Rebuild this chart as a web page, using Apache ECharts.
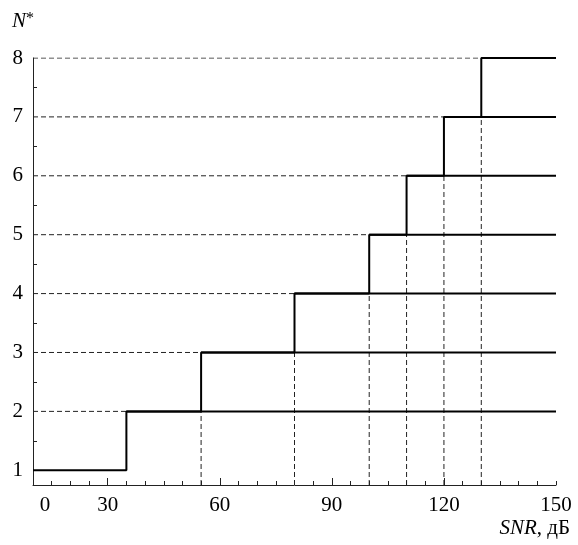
<!DOCTYPE html>
<html>
<head>
<meta charset="utf-8">
<script src="https://cdn.jsdelivr.net/npm/echarts@6/dist/echarts.min.js"></script>
<style>
  html, body { margin: 0; padding: 0; background: #fff; }
  #chart { width: 578px; height: 545px; }
</style>
</head>
<body>
<div id="chart"></div>
<script>
// data
const xMin = 10;           // axis starts here (label shown as "0", axis is broken)
const xMax = 150;
const yMin = 0.75;
const stepX = [35, 55, 80, 100, 110, 120, 130];   // SNR where N* jumps
const levels = [1, 2, 3, 4, 5, 6, 7, 8];          // N* values
const xLabels = [10, 30, 60, 90, 120, 150];
const xMajor = [30, 60, 90, 120];
const yTicks = [1.5, 2.5, 3.5, 4.5, 5.5, 6.5, 7.5];

const font = 'Liberation Serif';
const dashStyle = { color: '#222', width: 1, type: [5, 3] };
const solidStyle = { color: '#000', width: 2 };

const series = [];

// dashed horizontal guides from the axis to each step
stepX.forEach((x, i) => {
  series.push({
    type: 'line', symbol: 'none', silent: true,
    lineStyle: dashStyle,
    data: [[xMin, levels[i + 1]], [x, levels[i + 1]]]
  });
});

// dashed vertical guides from each step down to the axis
stepX.slice(1).forEach((x, i) => {
  series.push({
    type: 'line', symbol: 'none', silent: true,
    lineStyle: dashStyle,
    data: [[x, yMin], [x, levels[i + 1]]]
  });
});

// solid horizontal lines from each step to the right edge
stepX.slice(0, -1).forEach((x, i) => {
  series.push({
    type: 'line', symbol: 'none', silent: true,
    lineStyle: solidStyle,
    data: [[x, levels[i + 1]], [xMax, levels[i + 1]]]
  });
});

// the staircase itself
const stairData = [[xMin, levels[0]]];
stepX.forEach((x, i) => stairData.push([x, levels[i + 1]]));
stairData.push([xMax, levels[levels.length - 1]]);
series.push({
  type: 'line', step: 'end', symbol: 'none', silent: true,
  lineStyle: solidStyle,
  data: stairData
});

const chart = echarts.init(document.getElementById('chart'));
chart.setOption({
  animation: false,
  grid: { left: 33, right: 22, top: 58, bottom: 60 },
  xAxis: [
    {
      type: 'value', min: xMin, max: xMax, interval: 5, position: 'bottom',
      axisLine: { lineStyle: { color: '#222', width: 1 } },
      axisTick: { inside: true, length: 4, lineStyle: { color: '#222' } },
      splitLine: { show: false },
      axisLabel: {
        customValues: xLabels,
        margin: 10,
        color: '#000', fontFamily: font, fontSize: 21,
        formatter: v => v === xMin ? '{z|0}' : String(v),
        rich: { z: { padding: [0, 0, 0, 24], fontFamily: font, fontSize: 21, color: '#000' } }
      }
    },
    {
      type: 'value', min: xMin, max: xMax, position: 'bottom', offset: 0,
      axisLine: { show: false },
      axisTick: { show: true, inside: true, length: 7, customValues: xMajor, lineStyle: { color: '#222' } },
      axisLabel: { show: false },
      splitLine: { show: false }
    }
  ],
  yAxis: {
    type: 'value', min: yMin, max: 8,
    axisLine: { show: true, lineStyle: { color: '#222', width: 1 } },
    axisTick: { show: true, inside: true, length: 4, customValues: yTicks, lineStyle: { color: '#222' } },
    splitLine: { show: false },
    axisLabel: {
      customValues: levels,
      margin: 10,
      color: '#000', fontFamily: font, fontSize: 21
    }
  },
  graphic: [
    {
      type: 'text', left: 12, top: 11,
      style: {
        text: '{i|N}{s|*}',
        rich: {
          i: { fontFamily: font, fontStyle: 'italic', fontSize: 21, fill: '#000' },
          s: { fontFamily: font, fontSize: 16, fill: '#000', verticalAlign: 'top', padding: [0, 0, 4, 0] }
        },
        font: '21px "Liberation Serif"', fill: '#000'
      }
    },
    {
      type: 'text', right: 8, top: 518,
      style: {
        text: '{i|SNR}, дБ',
        rich: {
          i: { fontFamily: font, fontStyle: 'italic', fontSize: 21, fill: '#000' }
        },
        font: '21px "Liberation Serif"', fill: '#000'
      }
    }
  ],
  series: series
});
</script>
</body>
</html>
